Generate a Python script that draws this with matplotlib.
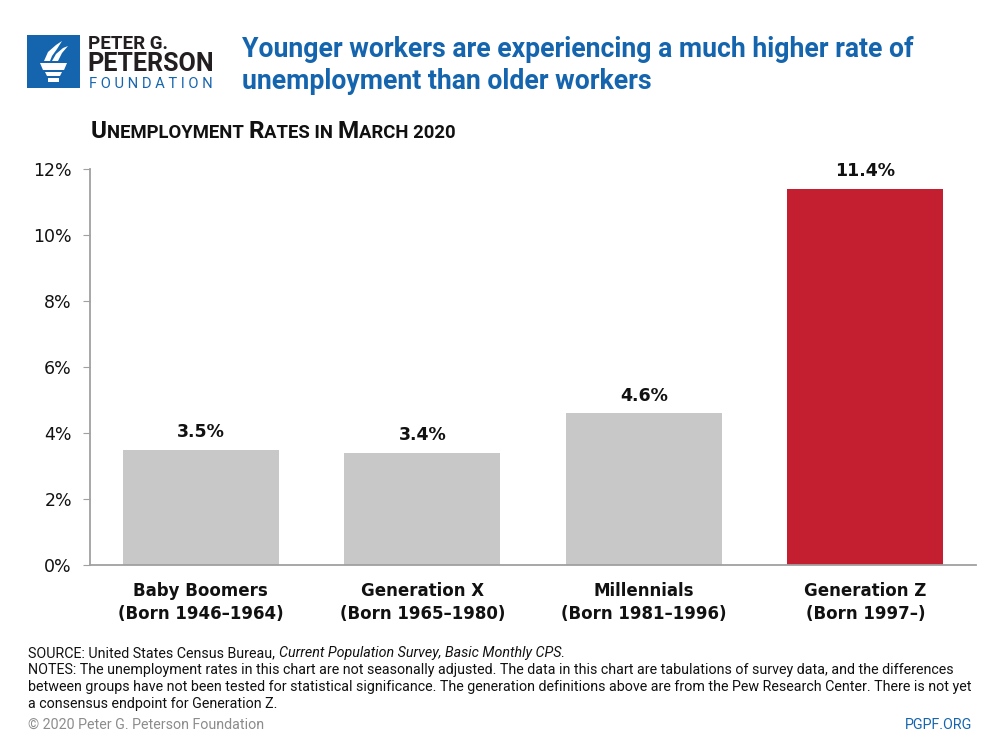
import matplotlib
matplotlib.use("Agg")
import matplotlib.pyplot as plt
import matplotlib.patches as mpatches
from matplotlib.offsetbox import TextArea, HPacker, AnchoredOffsetbox

# Data
generations = ["Baby Boomers", "Generation X", "Millennials", "Generation Z"]
born = ["(Born 1946\u20131964)", "(Born 1965\u20131980)", "(Born 1981\u20131996)", "(Born 1997\u2013)"]
unemployment = [3.5, 3.4, 4.6, 11.4]
bar_colors = ["#c8c8c8", "#c8c8c8", "#c8c8c8", "#c41f30"]
y_ticks = [0, 2, 4, 6, 8, 10, 12]

BLUE = "#1565ae"
NARROW = ["Roboto", "DejaVu Sans"]

plt.rcParams['font.family'] = ["DejaVu Sans"]

W, H = 1000, 750
fig = plt.figure(figsize=(10, 7.5), dpi=100)
renderer = fig.canvas.get_renderer()


def px(x, y):
    # pixel coords (top-left origin) -> figure fraction
    return x / W, 1 - y / H


def fit(t, width_px):
    # scale font so the text spans the given pixel width
    w = t.get_window_extent(renderer).width
    t.set_fontsize(t.get_fontsize() * width_px / w)
    return t


# --- logo ---
lx, ly = px(27, 88)
fig.patches.append(mpatches.Rectangle((lx, ly), 53 / W, 53 / H, transform=fig.transFigure,
                                      facecolor=BLUE, edgecolor="none"))
torch = [
    [(40, 63), (67, 63), (64, 70), (43, 70)],   # cup
    [(45, 72), (62, 72), (60, 76), (47, 76)],
    [(48, 78), (59, 78), (59, 82), (48, 82)],
    [(44, 61), (48, 52), (56, 45), (62, 41), (57, 49), (52, 56), (50, 61)],
    [(52, 61), (56, 54), (63, 48), (68, 46), (62, 53), (58, 61)],
]
for poly in torch:
    pts = [px(x, y) for x, y in poly]
    fig.patches.append(mpatches.Polygon(pts, closed=True, transform=fig.transFigure,
                                        facecolor="white", edgecolor="none"))

t = fig.text(*px(88, 49), "PETER G.", fontsize=14, fontweight="bold", color="#231f20",
             family=NARROW, va="baseline")
fit(t, 80)
t = fig.text(*px(87, 71), "PETERSON", fontsize=19, fontweight="bold", color="#231f20",
             family=NARROW, va="baseline")
fit(t, 126)
t = fig.text(*px(89, 88), "F O U N D A T I O N", fontsize=10, color=BLUE,
             family=NARROW, va="baseline")
fit(t, 124)

# --- title ---
t1 = fig.text(*px(242, 57), "Younger workers are experiencing a much higher rate of",
              fontsize=20, fontweight="bold", color=BLUE, family=NARROW, va="baseline")
fit(t1, 670)
fig.text(*px(242, 89), "unemployment than older workers", fontsize=t1.get_fontsize(),
         fontweight="bold", color=BLUE, family=NARROW, va="baseline")

# --- small caps subtitle ---
pieces = [("U", 17.5), ("NEMPLOYMENT ", 13.3), ("R", 17.5), ("ATES IN ", 13.3),
          ("M", 17.5), ("ARCH 2020", 13.3)]
areas = [TextArea(tx, textprops=dict(fontsize=s, color="#111111", fontweight="bold", family=NARROW))
         for tx, s in pieces]
box = HPacker(children=areas, align="baseline", pad=0, sep=0)
anch = AnchoredOffsetbox(loc="lower left", child=box, pad=0, frameon=False,
                         bbox_to_anchor=px(91, 143), bbox_transform=fig.transFigure,
                         borderpad=0)
fig.add_artist(anch)

# --- chart ---
ax = fig.add_axes([0.090, 1 - 565 / H, 0.886, (565 - 169) / H])
x = range(len(unemployment))
bars = ax.bar(x, unemployment, width=0.705, color=bar_colors, edgecolor="none", zorder=2)
for xi, v in zip(x, unemployment):
    ax.annotate(f"{v:.1f}%", (xi, v), xytext=(0, 6), textcoords="offset points",
                ha="center", va="bottom", fontsize=12.5, fontweight="bold", color="#111111")

ax.set_xlim(-0.5, 3.5)
ax.set_ylim(0, 12)
ax.set_yticks(y_ticks)
ax.set_yticklabels([f"{tk}%" for tk in y_ticks], fontsize=12.5, color="#111111")
ax.set_xticks(list(x))
ax.set_xticklabels([f"{g}\n{b}" for g, b in zip(generations, born)], fontsize=12,
                   fontweight="bold", color="#111111", linespacing=1.35)
ax.tick_params(axis="y", length=5, color="#a0a0a0", pad=8)
ax.tick_params(axis="x", length=0, pad=12)
for s in ["top", "right"]:
    ax.spines[s].set_visible(False)
for s in ["left", "bottom"]:
    ax.spines[s].set_color("#a0a0a0")
    ax.spines[s].set_linewidth(1.3)

# --- footer ---
notes = [
    ("NOTES: The unemployment rates in this chart are not seasonally adjusted. The data in this chart are "
     "tabulations of survey data, and the differences", 674),
    ("between groups have not been tested for statistical significance. The generation definitions above "
     "are from the Pew Research Center. There is not yet", 691),
    ("a consensus endpoint for Generation Z.", 708),
]
t = fig.text(*px(28, notes[0][1]), notes[0][0], fontsize=10, family=NARROW,
             color="#111111", va="baseline")
fit(t, 927)
fs = t.get_fontsize()
for line, yy in notes[1:]:
    fig.text(*px(28, yy), line, fontsize=fs, family=NARROW, color="#111111", va="baseline")

src = fig.text(*px(28, 657), "SOURCE: United States Census Bureau,", fontsize=fs,
               family=NARROW, color="#111111", va="baseline")
src_w = src.get_window_extent(renderer).width
fig.text(*px(28 + src_w + 4, 657), "Current Population Survey, Basic Monthly CPS.", fontsize=fs,
         family=NARROW, color="#111111", style="italic", va="baseline")
fig.text(*px(28, 729), "\u00a9 2020 Peter G. Peterson Foundation", fontsize=fs,
         family=NARROW, color="#8c8c8c", va="baseline")
fig.text(*px(972, 729), "PGPF.ORG", fontsize=fs, family=NARROW, color=BLUE,
         ha="right", va="baseline")

fig.savefig("out.png", dpi=100)
